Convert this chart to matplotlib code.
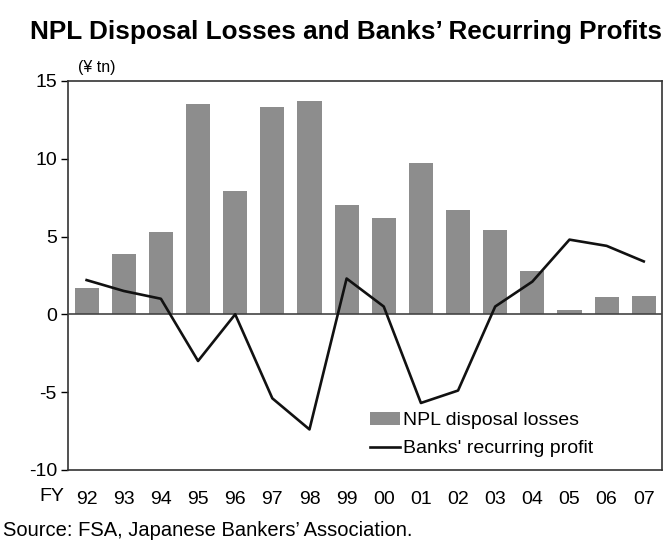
import matplotlib
matplotlib.use("Agg")
import matplotlib.pyplot as plt
import numpy as np

plt.rcParams['font.family'] = ['Liberation Sans', 'DejaVu Sans']
plt.rcParams['axes.unicode_minus'] = False

years = ["92", "93", "94", "95", "96", "97", "98", "99", "00", "01", "02", "03", "04", "05", "06", "07"]
npl_losses = [1.7, 3.9, 5.3, 13.5, 7.9, 13.3, 13.7, 7.0, 6.2, 9.7, 6.7, 5.4, 2.8, 0.3, 1.1, 1.2]
recurring_profit = [2.2, 1.5, 1.0, -3.0, 0.0, -5.4, -7.4, 2.3, 0.5, -5.7, -4.9, 0.5, 2.1, 4.8, 4.4, 3.4]

fig = plt.figure(figsize=(6.67, 5.47), dpi=100)
ax = fig.add_axes([0.102, 0.141, 0.891, 0.711])

x = np.arange(len(years))
bars = ax.bar(x, npl_losses, width=0.65, color="#8d8d8d", label="NPL disposal losses", zorder=2)
ax.axhline(0, color="#444444", lw=1.2, zorder=3)
line, = ax.plot(x, recurring_profit, color="#111111", lw=1.9, label="Banks' recurring profit", zorder=4)

ax.set_xlim(-0.5, len(years) - 0.5)
ax.set_ylim(-10, 15)
ax.set_yticks([-10, -5, 0, 5, 10, 15])
ax.set_xticks(x)
ax.set_xticklabels(years)
ax.tick_params(axis='y', direction='out', length=5, width=1, labelsize=14, pad=3)
ax.tick_params(axis='x', length=0, labelsize=14, pad=15)
for s in ax.spines.values():
    s.set_color("#333333")
    s.set_linewidth(1.2)

fig.text(0.078, 0.092, "FY", fontsize=14, ha="center", va="center")
fig.text(0.117, 0.862, "(¥ tn)", fontsize=11.5, ha="left", va="bottom")
fig.text(0.045, 0.942, "NPL Disposal Losses and Banks\u2019 Recurring Profits",
         fontsize=18.8, fontweight="bold", ha="left", va="center")
fig.text(0.005, 0.030, "Source: FSA, Japanese Bankers\u2019 Association.",
         fontsize=14.5, ha="left", va="center")

ax.legend(handles=[bars, line], loc="upper left", bbox_to_anchor=(0.478, 0.195), frameon=False,
          fontsize=14, handlelength=1.55, handletextpad=0.15, labelspacing=0.55)

fig.savefig("out.png", dpi=100)
